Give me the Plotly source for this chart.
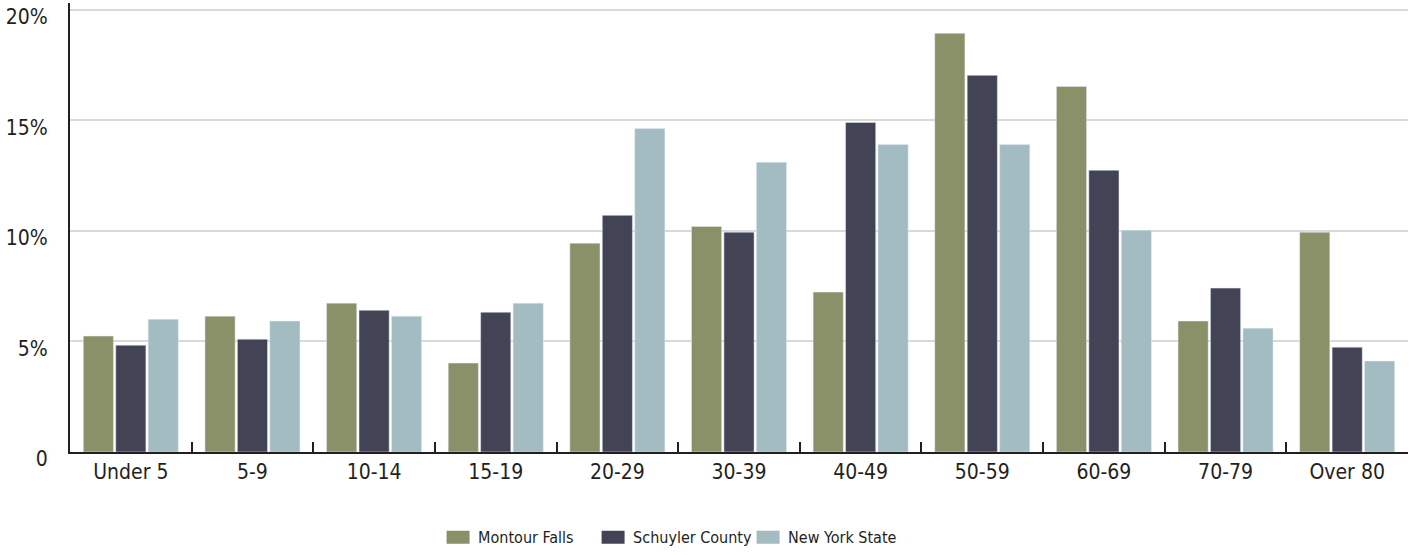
import plotly.graph_objects as go

categories = ["Under 5", "5-9", "10-14", "15-19", "20-29", "30-39", "40-49", "50-59", "60-69", "70-79", "Over 80"]
montour_falls = [5.24, 6.14, 6.73, 4.02, 9.44, 10.2, 7.23, 18.93, 16.53, 5.92, 9.94]
schuyler_county = [4.83, 5.1, 6.41, 6.32, 10.7, 9.94, 14.9, 17.03, 12.74, 7.41, 4.74]
new_york_state = [6.0, 5.92, 6.14, 6.73, 14.63, 13.1, 13.9, 13.9, 10.03, 5.6, 4.11]

y_tickvals = [0, 5, 10, 15, 20]
y_ticktext = ["0", "5%", "10%", "15%", "20%"]

FONT = "DejaVu Sans Condensed, Liberation Sans Narrow, sans-serif"
TXT = "#231f20"

fig = go.Figure()
fig.add_trace(go.Bar(name="Montour Falls", x=categories, y=montour_falls, marker_color="#8a9168"))
fig.add_trace(go.Bar(name="Schuyler County", x=categories, y=schuyler_county, marker_color="#424456"))
fig.add_trace(go.Bar(name="New York State", x=categories, y=new_york_state, marker_color="#a2bcc1"))

fig.update_layout(
    width=1413, height=555,
    margin=dict(l=70, r=5, t=3, b=103, autoexpand=False),
    plot_bgcolor="white", paper_bgcolor="white",
    barmode="group", bargap=0.2, bargroupgap=0.07,
    font=dict(family=FONT, size=21, color=TXT),
    legend=dict(orientation="h", x=0.2751, xanchor="left", y=-0.19, yanchor="middle",
                font=dict(size=16), traceorder="normal", itemwidth=30,
                entrywidth=110, entrywidthmode="pixels"),
    showlegend=True,
)
fig.update_xaxes(
    showline=True, linecolor=TXT, linewidth=2, automargin=False,
    ticks="inside", tickson="boundaries", ticklen=10, tickwidth=2, tickcolor=TXT,
    showgrid=False, tickfont=dict(size=21),
)
fig.update_yaxes(
    range=[0, 20.3], tickvals=y_tickvals, ticktext=y_ticktext, automargin=False,
    showline=True, linecolor=TXT, linewidth=2,
    showgrid=True, gridcolor="#d9d9d9", gridwidth=1.5,
    zeroline=False, ticks="", tickfont=dict(size=21), ticklabelstandoff=16,
    ticklabelshift=7, ticklabeloverflow="allow",
)

post = """
document.body.style.margin='0px';
document.querySelectorAll('.legend .legendpoints path').forEach(function(p){
  p.setAttribute('d','M-11.5,6.5H11.5V-6.5H-11.5Z');
  p.style.strokeWidth='0px';
});
"""

fig.write_html("out.html", config={"displayModeBar": False}, post_script=post)
